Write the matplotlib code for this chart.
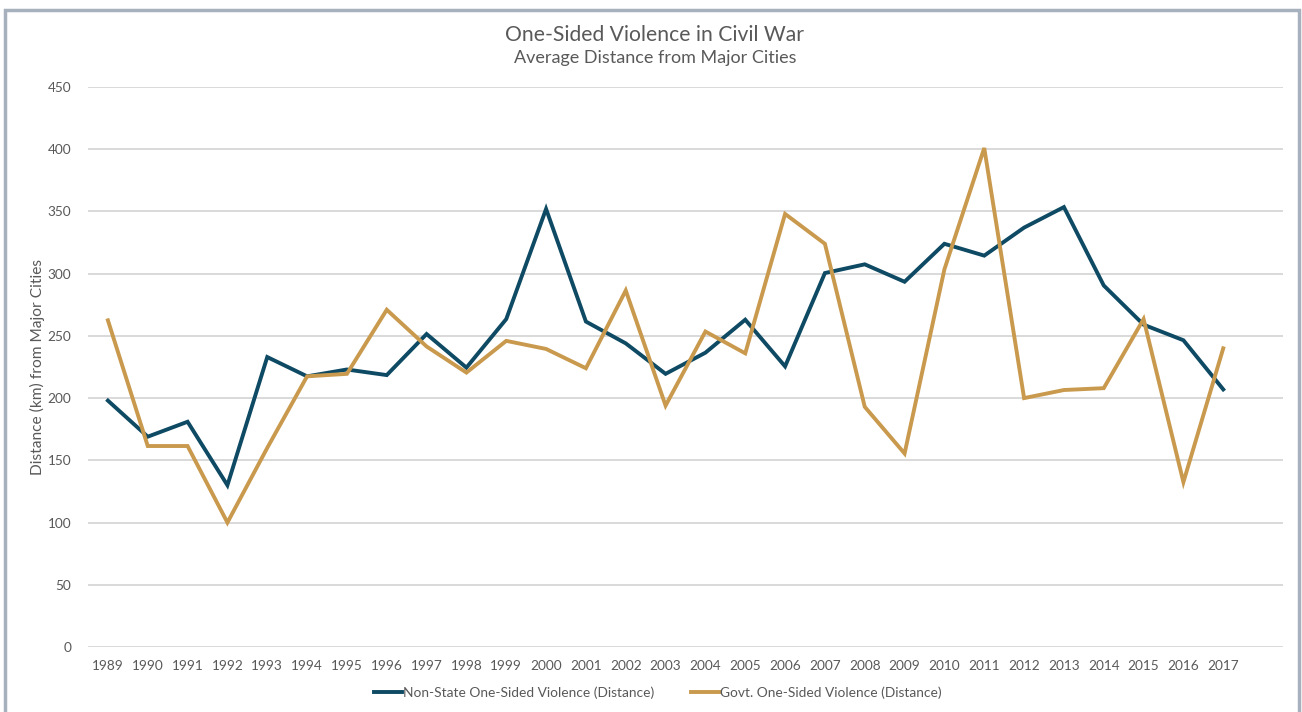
import matplotlib
matplotlib.use("Agg")
import matplotlib.pyplot as plt
from matplotlib.patches import Rectangle

years = list(range(1989, 2018))
non_state = [198, 169, 181, 130, 233, 217.5, 223, 218.5, 251.5, 224.5,
             263.5, 352, 261.5, 244, 219.5, 236.5, 263, 225.5, 300.5, 307.5,
             293.5, 324, 314.5, 337, 353.5, 290.5, 259, 246.5, 207]
govt = [262.5, 161.5, 161.5, 100, 160, 217.5, 219.5, 271, 241.5, 220.5,
        246, 239.5, 224, 286.5, 194, 253.5, 236, 348, 324, 193,
        155.5, 303.5, 401, 200, 206.5, 208, 263.5, 132.5, 240]
yticks = [0, 50, 100, 150, 200, 250, 300, 350, 400, 450]

title = "One-Sided Violence in Civil War"
subtitle = "Average Distance from Major Cities"
ylabel = "Distance (km) from Major Cities"
labels = ["Non-State One-Sided Violence (Distance)", "Govt. One-Sided Violence (Distance)"]

BLUE = "#0E4A63"
GOLD = "#C99A4E"
TXT = "#595959"

plt.rcParams['font.family'] = ['Lato', 'DejaVu Sans']

W, H = 1302, 712
fig = plt.figure(figsize=(W / 100, H / 100), dpi=100)
fig.patch.set_facecolor("white")

# border
fig.patches.append(Rectangle((5 / W, -0.05), 1294 / W, 1.05 - 10 / H,
                             transform=fig.transFigure, fill=False,
                             edgecolor="#A7B1BD", linewidth=2.5, zorder=0))

left, right = 88 / W, 1283 / W
bottom, top = (H - 647) / H, (H - 87) / H
ax = fig.add_axes([left, bottom, right - left, top - bottom])

l1, = ax.plot(years, non_state, color=BLUE, linewidth=2.8, solid_joinstyle='miter', zorder=3)
l2, = ax.plot(years, govt, color=GOLD, linewidth=2.8, solid_joinstyle='miter', zorder=3)

ax.set_xlim(1988.5, 2018.5)
ax.set_ylim(0, 450)
ax.set_yticks(yticks)
ax.set_xticks(years)
ax.set_xticklabels([str(y) for y in years])
ax.grid(axis='y', color="#D9D9D9", linewidth=1.4, zorder=0)
ax.grid(axis='x', visible=False)
for s in ax.spines.values():
    s.set_visible(False)
ax.tick_params(axis='both', length=0, colors=TXT, labelsize=9.8)
ax.tick_params(axis='y', pad=12)
ax.tick_params(axis='x', pad=9)
ax.set_ylabel(ylabel, color=TXT, fontsize=11.2)
ax.yaxis.set_label_coords((45 - 88) / (1283 - 88), 0.5)
ax.set_axisbelow(True)

fig.text(655 / W, 1 - 35 / H, title, ha='center', va='center', color=TXT, fontsize=15.2)
fig.text(655 / W, 1 - 58 / H, subtitle, ha='center', va='center', color=TXT, fontsize=13.0)

fig.legend([l1, l2], labels, loc='center', bbox_to_anchor=(658 / W, 1 - 693 / H),
           ncol=2, frameon=False, fontsize=9.9, handlelength=2.0, handletextpad=0.1,
           columnspacing=2.7, labelcolor=TXT)

fig.savefig("out.png", dpi=100, facecolor="white")
